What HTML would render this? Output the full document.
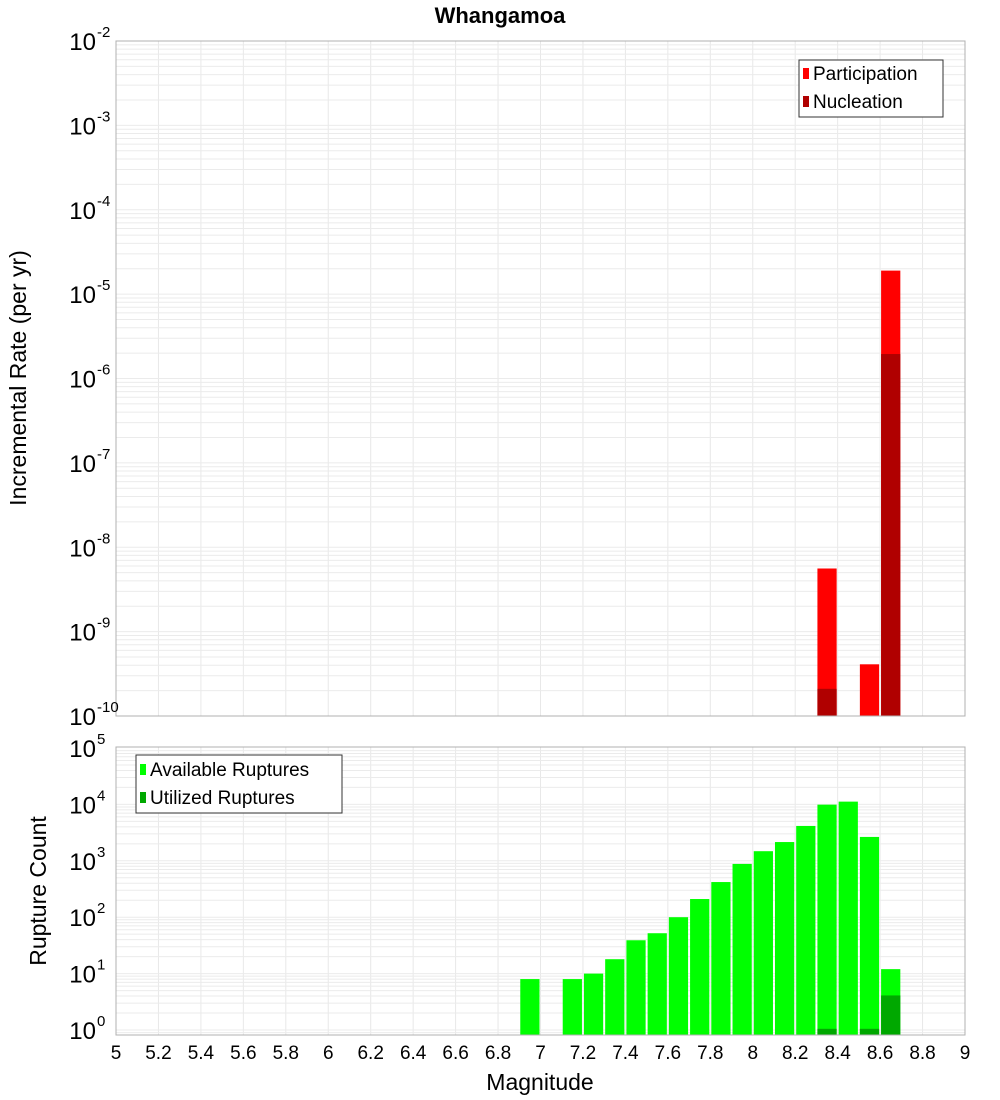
<!DOCTYPE html>
<html><head><meta charset="utf-8"><style>
html,body{margin:0;padding:0;background:#fff;}
svg{display:block;font-family:"Liberation Sans","DejaVu Sans",sans-serif;}
</style></head><body>
<svg id="chart" width="1000" height="1100" viewBox="0 0 1000 1100" xmlns="http://www.w3.org/2000/svg">
<text x="500" y="23" text-anchor="middle" font-size="22" font-weight="bold">Whangamoa</text>
<g id="top-grid"></g>
<g id="bot-grid"></g>
<g id="top-bars"></g>
<g id="bot-bars"></g>
<rect x="116" y="41" width="849" height="675" fill="none" stroke="#b0b0b0"/>
<rect x="116" y="747" width="849" height="288" fill="none" stroke="#b0b0b0"/>
<g id="top-yticks"></g>
<g id="bot-yticks"></g>
<g id="xticks"></g>
<text transform="translate(26,378) rotate(-90)" text-anchor="middle" font-size="23">Incremental Rate (per yr)</text>
<text transform="translate(46,891) rotate(-90)" text-anchor="middle" font-size="23">Rupture Count</text>
<text x="540" y="1090" text-anchor="middle" font-size="23">Magnitude</text>
<g>
<rect x="799" y="60" width="144" height="57" fill="#fff" stroke="#333"/>
<rect x="803" y="68" width="6" height="11" fill="#ff0000"/>
<text x="813" y="80" font-size="19">Participation</text>
<rect x="803" y="96" width="6" height="11" fill="#b00000"/>
<text x="813" y="108" font-size="19">Nucleation</text>
</g>
<g>
<rect x="136" y="755" width="206" height="58" fill="#fff" stroke="#333"/>
<rect x="140" y="764" width="6" height="11" fill="#00ff00"/>
<text x="150" y="776" font-size="19">Available Ruptures</text>
<rect x="140" y="792" width="6" height="11" fill="#00a800"/>
<text x="150" y="804" font-size="19">Utilized Ruptures</text>
</g>
</svg>
<script>
const rateMags = [8.35, 8.55, 8.65];
const participationRates = [5.6e-9, 4.1e-10, 1.9e-5];
const nucleationRates = [2.1e-10, 0, 1.95e-6];
const countMags = [6.95,7.15,7.25,7.35,7.45,7.55,7.65,7.75,7.85,7.95,8.05,8.15,8.25,8.35,8.45,8.55,8.65];
const availableCounts = [8,8,10,18,39,52,100,210,420,880,1480,2150,4150,9900,11200,2650,12];
const utilizedCounts = [0,0,0,0,0,0,0,0,0,0,0,0,0,1.05,0,1.05,4.1];
const xTickLabels = ["5","5.2","5.4","5.6","5.8","6","6.2","6.4","6.6","6.8","7","7.2","7.4","7.6","7.8","8","8.2","8.4","8.6","8.8","9"];
const topExps = [-2,-3,-4,-5,-6,-7,-8,-9,-10];
const botExps = [5,4,3,2,1,0];

const NS="http://www.w3.org/2000/svg";
const X0=116,X1=965,XMIN=5,XMAX=9;
function xs(m){return X0+(m-XMIN)/(XMAX-XMIN)*(X1-X0);}
function yTop(v){return 41+(-2-Math.log10(v))*84.375;}
function yBot(v){return 1030-Math.log10(v)*56.4;}
const TOPB=716,BOTB=1035,BW=0.1*(X1-X0)/(XMAX-XMIN);
function mk(tag,attrs,parent){const e=document.createElementNS(NS,tag);for(const k in attrs)e.setAttribute(k,attrs[k]);parent.appendChild(e);return e;}

// grids
const tg=document.getElementById('top-grid'), bg=document.getElementById('bot-grid');
for(let i=0;i<xTickLabels.length;i++){
  const x=xs(parseFloat(xTickLabels[i]));
  mk('line',{x1:x,x2:x,y1:41,y2:716,stroke:'#e8e8e8'},tg);
  mk('line',{x1:x,x2:x,y1:747,y2:1035,stroke:'#e8e8e8'},bg);
}
for(let e=-10;e<-2;e++)for(let k=1;k<10;k++){const y=yTop(k*Math.pow(10,e));if(y>=41&&y<=716)mk('line',{x1:X0,x2:X1,y1:y,y2:y,stroke:'#ebebeb'},tg);}
for(let e=-1;e<5;e++)for(let k=1;k<10;k++){const y=yBot(k*Math.pow(10,e));if(y>=747&&y<=1035)mk('line',{x1:X0,x2:X1,y1:y,y2:y,stroke:'#ebebeb'},bg);}

// top bars
const tb=document.getElementById('top-bars');
rateMags.forEach((m,i)=>{
  const x=xs(m)-BW/2+1,w=BW-2;
  const y=yTop(participationRates[i]);
  const r=mk('rect',{x:x,y:y,width:w,height:TOPB-y,fill:'#ff0000'},tb);
  
  
  if(nucleationRates[i]>0){
    const y2=yTop(nucleationRates[i]);
    const n=mk('rect',{x:x,y:y2,width:w,height:TOPB-y2,fill:'#b00000'},tb);
    
    
  }
});
// bottom bars
const bb=document.getElementById('bot-bars');
countMags.forEach((m,i)=>{
  const x=xs(m)-BW/2+1,w=BW-2;
  const y=yBot(availableCounts[i]);
  const r=mk('rect',{x:x,y:y,width:w,height:BOTB-y,fill:'#00ff00'},bb);
  
  
  if(utilizedCounts[i]>0){
    const y2=yBot(utilizedCounts[i]);
    const n=mk('rect',{x:x,y:y2,width:w,height:BOTB-y2,fill:'#00a800'},bb);
    
    
  }
});
// y ticks
function powLabel(g,xr,y,e){
  const t=mk('text',{x:xr-22,y:y+9,'text-anchor':'end','font-size':'24'},g);
  t.textContent='10';
  
  
  const s=mk('text',{x:xr-21,y:y-4,'text-anchor':'start','font-size':'15'},g);
  s.textContent=String(e);
  
  
}
const ty=document.getElementById('top-yticks');
topExps.forEach(e=>powLabel(ty,118,yTop(Math.pow(10,e)),e));
const by=document.getElementById('bot-yticks');
botExps.forEach(e=>powLabel(by,118,yBot(Math.pow(10,e)),e));
// x ticks
const xt=document.getElementById('xticks');
xTickLabels.forEach(l=>{
  const t=mk('text',{x:xs(parseFloat(l)),y:1059,'text-anchor':'middle','font-size':'19'},xt);
  t.textContent=l;
  
  
});
</script>
</body></html>
